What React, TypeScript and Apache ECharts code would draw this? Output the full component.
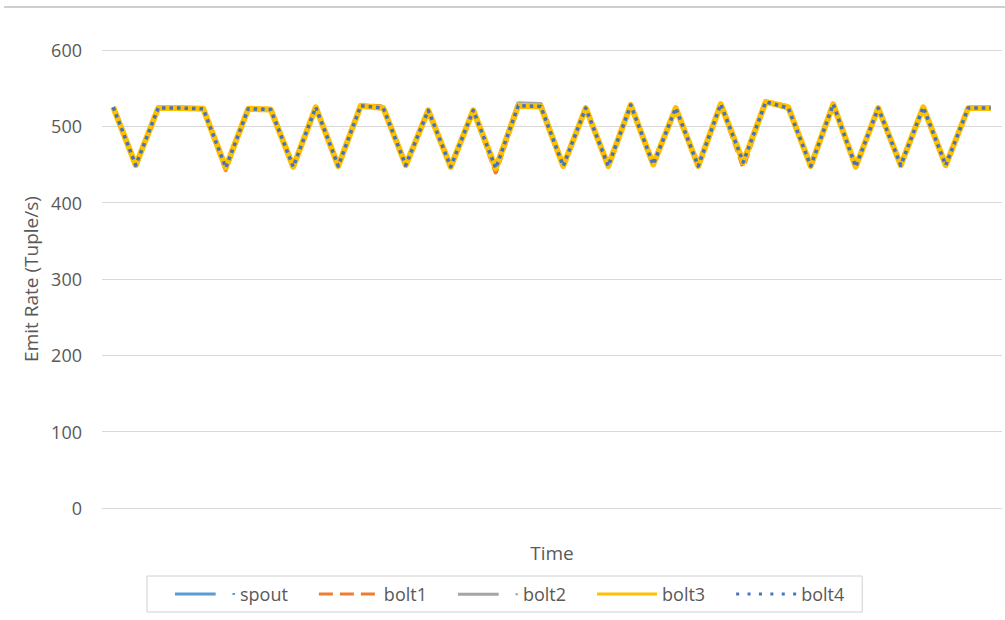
import React, { useEffect, useRef } from "react";
import * as echarts from "echarts";

const categories = [
  "1", "2", "3", "4", "5", "6", "7", "8", "9", "10",
  "11", "12", "13", "14", "15", "16", "17", "18", "19", "20",
  "21", "22", "23", "24", "25", "26", "27", "28", "29", "30",
  "31", "32", "33", "34", "35", "36", "37", "38", "39", "40",
];

const spout = [
  525, 449, 524, 524, 523, 446, 523, 522, 447, 525,
  448, 527, 524, 449, 521, 447, 521, 445, 527, 526,
  448, 524, 448, 528, 450, 524, 448, 529, 453, 532,
  524, 448, 529, 447, 524, 449, 525, 449, 524, 524,
];

const bolt1 = [
  525, 449, 524, 524, 523, 443, 523, 522, 447, 525,
  448, 527, 526, 449, 521, 447, 521, 440, 527, 526,
  448, 524, 448, 528, 450, 524, 448, 529, 447, 532,
  526, 448, 529, 447, 524, 449, 525, 449, 524, 524,
];

const bolt2 = [
  525, 449, 524, 524, 523, 446, 523, 522, 447, 525,
  448, 527, 524, 449, 521, 447, 521, 445, 530, 529,
  448, 524, 448, 528, 450, 524, 448, 529, 453, 532,
  524, 448, 529, 447, 524, 449, 525, 449, 524, 524,
];

const bolt3 = [
  525, 449, 524, 524, 523, 446, 523, 522, 447, 525,
  448, 527, 524, 449, 521, 447, 521, 445, 527, 526,
  448, 524, 448, 528, 450, 524, 448, 529, 453, 532,
  525, 448, 529, 447, 524, 449, 525, 449, 524, 524,
];

const bolt4 = [
  525, 449, 524, 524, 523, 446, 523, 522, 447, 525,
  448, 527, 524, 449, 521, 447, 521, 445, 527, 526,
  448, 524, 448, 528, 450, 524, 448, 529, 453, 532,
  524, 448, 529, 447, 524, 449, 525, 449, 524, 524,
];

const seriesNames = ["spout", "bolt1", "bolt2", "bolt3", "bolt4"];
const colors = ["#5B9BD5", "#ED7D31", "#A5A5A5", "#FFC000", "#4472C4"];

const FONT = "'Open Sans', 'Noto Sans', sans-serif";
const TEXT = "#595959";

const icons = [
  "path://M0,0.5h40v3h-40z M56.5,1h2.5v2h-2.5z",
  "path://M0,0.5h14v3h-14z M21,0.5h14v3h-14z M42,0.5h14v3h-14z M0,0v0.01h0.01z M60,4v-0.01h-0.01z",
  "path://M0,0.5h40v3h-40z M56.5,1h2.5v2h-2.5z M0,0v0.01h0.01z",
  "path://M0,0.5h60v3h-60z",
  "path://M0,0.5h3v3h-3z M11.4,0.5h3v3h-3z M22.8,0.5h3v3h-3z M34.2,0.5h3v3h-3z M45.6,0.5h3v3h-3z M57,0.5h3v3h-3z M0,0v0.01h0.01z M60,4v-0.01h-0.01z",
];

export default function App() {
  const ref = useRef<HTMLDivElement>(null);

  useEffect(() => {
    document.body.style.margin = "0";
    if (!ref.current) return;
    const chart = echarts.init(ref.current, undefined, { renderer: "svg" });
    const lineStyles: any[] = [
      { width: 4, type: "solid" },
      { width: 4.5, type: [10, 5] },
      { width: 4.5, type: "solid" },
      { width: 6, type: "solid" },
      { width: 3.5, type: [3.5, 4] },
    ];
    const datas = [spout, bolt1, bolt2, bolt3, bolt4];
    chart.setOption({
      animation: false,
      backgroundColor: "#ffffff",
      grid: { left: 102, right: 3, top: 50, bottom: 112, containLabel: false },
      graphic: [
        {
          type: "line",
          shape: { x1: 4, y1: 7, x2: 1005, y2: 7 },
          style: { stroke: "#cfcfcf", lineWidth: 2 },
          silent: true,
        },
      ],
      xAxis: {
        type: "category",
        data: categories,
        boundaryGap: true,
        name: "Time",
        nameLocation: "middle",
        nameGap: 35,
        nameTextStyle: { fontFamily: FONT, fontSize: 19, color: TEXT },
        axisLine: { show: true, lineStyle: { color: "#d9d9d9", width: 1 } },
        axisTick: { show: false },
        axisLabel: { show: false },
        splitLine: { show: false },
      },
      yAxis: {
        type: "value",
        min: 0,
        max: 600,
        interval: 100,
        name: "Emit Rate (Tuple/s)",
        nameLocation: "middle",
        nameGap: 60,
        nameRotate: 90,
        nameTextStyle: { fontFamily: FONT, fontSize: 19, color: TEXT },
        axisLine: { show: false },
        axisTick: { show: false },
        axisLabel: { fontFamily: FONT, fontSize: 18, color: TEXT, margin: 20 },
        splitLine: { lineStyle: { color: "#d9d9d9", width: 1 } },
      },
      legend: {
        left: 147,
        top: 576,
        orient: "horizontal",
        padding: [9, 18, 9, 28],
        borderColor: "#d0d0d0",
        borderWidth: 1,
        itemWidth: 60,
        itemHeight: 4,
        itemGap: 31,
        selectedMode: false,
        textStyle: { fontFamily: FONT, fontSize: 18, color: TEXT },
        data: seriesNames.map((n, i) => ({
          name: n,
          icon: icons[i],
          itemStyle: { color: colors[i], borderWidth: 0 },
        })),
      },
      series: seriesNames.map((n, i) => ({
        name: n,
        type: "line",
        data: datas[i],
        symbol: "none",
        showSymbol: false,
        color: colors[i],
        lineStyle: { ...lineStyles[i], color: colors[i], cap: "butt", join: "round" },
        z: 2 + i,
      })),
    });
    return () => chart.dispose();
  }, []);

  return <div ref={ref} style={{ width: 1005, height: 620 }} />;
}
